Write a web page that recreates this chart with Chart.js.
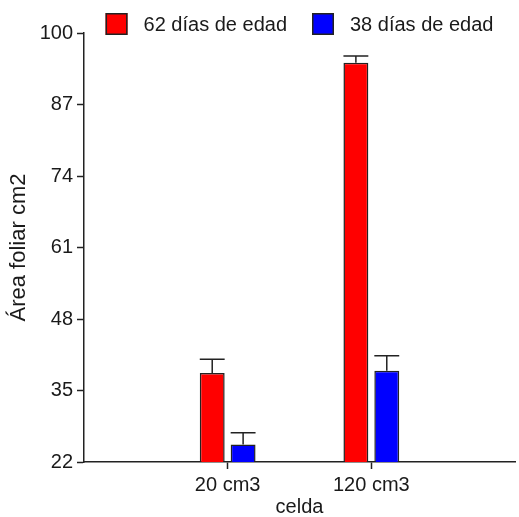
<!DOCTYPE html>
<html><head><meta charset="utf-8">
<script src="https://cdn.jsdelivr.net/npm/chart.js@4/dist/chart.umd.min.js"></script>
<style>html,body{margin:0;padding:0;background:#fff;overflow:hidden}#wrap{width:519px;height:517px;position:relative}canvas{display:block}</style>
</head><body><div id="wrap"><canvas id="c" width="519" height="517"></canvas></div>
<script>
const categories = ['', '20 cm3', '120 cm3', ''];
const seriesNames = ['62 días de edad', '38 días de edad'];
const values62 = [null, 38.2, 94.6, null];
const values38 = [null, 25.2, 38.6, null];
const errors62 = [null, 2.5, 1.2, null];
const errors38 = [null, 2.1, 2.7, null];
const yTicks = [22, 35, 48, 61, 74, 87, 100];
const xTitle = 'celda';
const yTitle = 'Área foliar cm2';
const colors = ['#ff0000', '#0000ff'];

const FONT = "'Liberation Sans', Arial, sans-serif";
const INK = '#1a1a1a';
const AXIS = '#222222';

const errorBars = {
  id: 'errorBars',
  afterDatasetsDraw(chart) {
    const ctx = chart.ctx;
    const ys = chart.scales.y;
    ctx.save();
    ctx.strokeStyle = AXIS;
    ctx.lineWidth = 1.5;
    chart.data.datasets.forEach((ds, di) => {
      const meta = chart.getDatasetMeta(di);
      meta.data.forEach((el, i) => {
        const v = ds.data[i], e = ds.errors[i];
        if (v == null || e == null) return;
        const top = ys.getPixelForValue(v + e);
        const half = el.width / 2;
        ctx.beginPath();
        ctx.moveTo(el.x, el.y);
        ctx.lineTo(el.x, top);
        ctx.moveTo(el.x - half, top);
        ctx.lineTo(el.x + half, top);
        ctx.stroke();
      });
    });
    ctx.restore();
  }
};

const topLegend = {
  id: 'topLegend',
  afterDraw(chart) {
    const ctx = chart.ctx;
    const ca = chart.chartArea;
    ctx.save();
    ctx.font = '20px ' + FONT;
    const box = 22, gapText = 16, gapItem = 25;
    const widths = chart.data.datasets.map(d => ctx.measureText(d.label).width);
    let total = 0;
    widths.forEach((w, i) => { total += box + gapText + w + (i ? gapItem : 0); });
    let x = (ca.left + ca.right) / 2 - total / 2;
    const yTop = 13;
    chart.data.datasets.forEach((d, i) => {
      ctx.fillStyle = d.backgroundColor;
      ctx.fillRect(x, yTop, box, box);
      ctx.strokeStyle = AXIS;
      ctx.lineWidth = 1.5;
      ctx.strokeRect(x + 0.75, yTop + 0.75, box - 1.5, box - 1.5);
      ctx.fillStyle = INK;
      ctx.textBaseline = 'middle';
      ctx.textAlign = 'left';
      ctx.fillText(d.label, x + box + gapText, yTop + box / 2 + 1);
      x += box + gapText + widths[i] + gapItem;
    });
    ctx.restore();
  }
};

new Chart(document.getElementById('c'), {
  type: 'bar',
  data: {
    labels: categories,
    datasets: [
      { label: seriesNames[0], data: values62, errors: errors62, backgroundColor: colors[0], borderColor: AXIS, borderWidth: 1.5 },
      { label: seriesNames[1], data: values38, errors: errors38, backgroundColor: colors[1], borderColor: AXIS, borderWidth: 1.5 }
    ]
  },
  options: {
    responsive: false,
    animation: false,
    devicePixelRatio: 1,
    layout: { padding: { top: 33, right: 2, left: 0, bottom: 0 } },
    categoryPercentage: 0.43,
    barPercentage: 0.806,
    plugins: { legend: { display: false }, tooltip: { enabled: false } },
    scales: {
      x: {
        offset: false,
        afterFit(s) { s.height = 55; },
        grid: {
          offset: false,
          drawOnChartArea: false, drawTicks: true, tickLength: 7, tickWidth: 1.5,
          tickColor: c => (categories[c.index] ? AXIS : 'rgba(0,0,0,0)')
        },
        border: { color: AXIS, width: 1.5 },
        ticks: { color: INK, font: { family: FONT, size: 20 }, padding: 4, maxRotation: 0, autoSkip: false },
        title: { display: true, text: xTitle, color: INK, font: { family: FONT, size: 20, lineHeight: 1 }, padding: { top: 0, bottom: 0 } }
      },
      y: {
        min: 22, max: 100,
        afterBuildTicks(s) { s.ticks = yTicks.map(v => ({ value: v })); },
        afterFit(s) { s.width = 84; },
        grid: { drawOnChartArea: false, drawTicks: true, tickLength: 7, tickWidth: 1.5, tickColor: AXIS },
        border: { color: AXIS, width: 1.5 },
        ticks: { color: INK, font: { family: FONT, size: 20 }, padding: 4 },
        title: { display: true, text: yTitle, color: INK, font: { family: FONT, size: 22, lineHeight: 1.2 }, padding: { top: 6, bottom: 0 } }
      }
    }
  },
  plugins: [errorBars, topLegend]
});
</script>
</body></html>
